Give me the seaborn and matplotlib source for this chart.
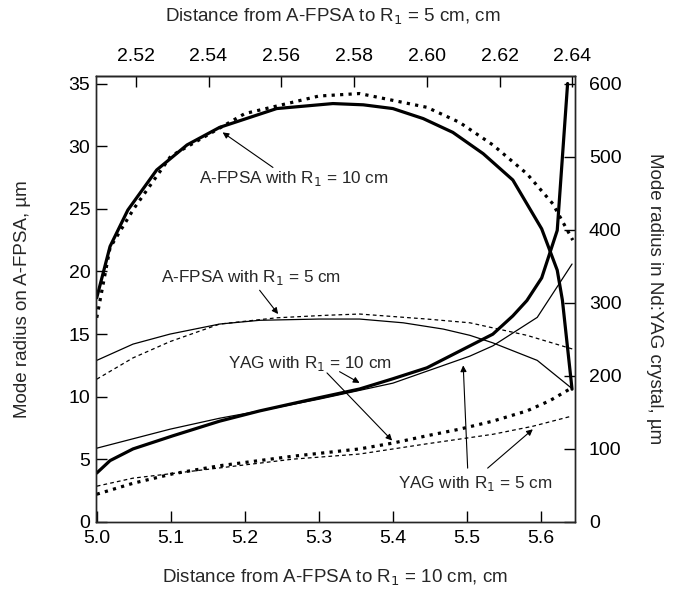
import numpy as np
import matplotlib
matplotlib.use("Agg")
from matplotlib import pyplot as plt
import seaborn as sns

# A-FPSA mode radius (left axis, um)
afpsa10_x = [5.0, 5.018, 5.042, 5.081, 5.122, 5.166, 5.243, 5.319, 5.36, 5.40, 5.441, 5.481, 5.522, 5.562, 5.601, 5.622, 5.629, 5.642]
afpsa10_y = [17.9, 22.0, 24.9, 28.1, 30.1, 31.5, 33.0, 33.4, 33.3, 33.0, 32.2, 31.1, 29.4, 27.3, 23.4, 20.1, 17.7, 10.6]
afpsa10_dot_x = [5.0, 5.018, 5.05, 5.1, 5.2, 5.3, 5.355, 5.446, 5.49, 5.535, 5.581, 5.616, 5.643]
afpsa10_dot_y = [16.3, 21.9, 25.0, 29.2, 32.6, 34.0, 34.2, 33.1, 31.9, 30.1, 27.8, 25.4, 22.5]
afpsa5_x = [5.0, 5.049, 5.099, 5.166, 5.22, 5.30, 5.355, 5.414, 5.468, 5.504, 5.535, 5.595, 5.641]
afpsa5_y = [12.9, 14.2, 15.0, 15.8, 16.1, 16.2, 16.2, 15.9, 15.4, 14.9, 14.3, 12.9, 10.7]
afpsa5_dot_x = [5.0, 5.049, 5.099, 5.166, 5.243, 5.31, 5.355, 5.446, 5.504, 5.581, 5.643]
afpsa5_dot_y = [11.4, 13.1, 14.4, 15.8, 16.3, 16.5, 16.6, 16.2, 15.9, 14.9, 13.8]

# Nd:YAG mode radius (right axis, um)
yag10_x = [5.0, 5.018, 5.049, 5.103, 5.166, 5.22, 5.30, 5.355, 5.40, 5.446, 5.504, 5.535, 5.562, 5.581, 5.601, 5.622, 5.636]
yag10_y = [67, 84, 100, 118, 138, 152, 170, 182, 196, 211, 241, 257, 282, 303, 334, 399, 600]
yag5_x = [5.0, 5.099, 5.166, 5.22, 5.30, 5.40, 5.504, 5.535, 5.595, 5.642]
yag5_y = [101, 127, 142, 152, 168, 190, 227, 241, 280, 353]
yag10_dot_x = [5.0, 5.049, 5.103, 5.166, 5.265, 5.355, 5.40, 5.446, 5.49, 5.535, 5.581, 5.612, 5.639]
yag10_dot_y = [38, 53, 66, 77, 90, 100, 108, 118, 127, 138, 152, 166, 182]
yag5_dot_x = [5.0, 5.049, 5.166, 5.265, 5.355, 5.446, 5.535, 5.589, 5.642]
yag5_dot_y = [49, 60, 74, 86, 93, 107, 120, 131, 145]

bottom_ticks = [5.0, 5.1, 5.2, 5.3, 5.4, 5.5, 5.6]
top_ticks = [2.52, 2.54, 2.56, 2.58, 2.60, 2.62, 2.64]
left_ticks = [0, 5, 10, 15, 20, 25, 30, 35]
right_ticks = [0, 100, 200, 300, 400, 500, 600]

sns.set_style("ticks")
plt.rcParams['font.family'] = ['Liberation Sans', 'DejaVu Sans']
plt.rcParams['axes.linewidth'] = 1.0

fig = plt.figure(figsize=(6.81, 5.93), dpi=100)
ax = fig.add_axes([96 / 681, 71 / 593, 479 / 681, 446 / 593])
ax2 = ax.twinx()

thick, thin = 2.3, 0.9
sns.lineplot(x=afpsa10_x, y=afpsa10_y, ax=ax, color='black', linewidth=thick, sort=False, estimator=None)
sns.lineplot(x=afpsa10_dot_x, y=afpsa10_dot_y, ax=ax, color='black', linewidth=thick, linestyle=':', sort=False, estimator=None)
sns.lineplot(x=afpsa5_x, y=afpsa5_y, ax=ax, color='black', linewidth=thin, sort=False, estimator=None)
sns.lineplot(x=afpsa5_dot_x, y=afpsa5_dot_y, ax=ax, color='black', linewidth=thin, linestyle=(0, (3, 2.5)), sort=False, estimator=None)

sns.lineplot(x=yag10_x, y=yag10_y, ax=ax2, color='black', linewidth=thick, sort=False, estimator=None)
sns.lineplot(x=yag10_dot_x, y=yag10_dot_y, ax=ax2, color='black', linewidth=thick, linestyle=':', sort=False, estimator=None)
sns.lineplot(x=yag5_x, y=yag5_y, ax=ax2, color='black', linewidth=thin, sort=False, estimator=None)
sns.lineplot(x=yag5_dot_x, y=yag5_dot_y, ax=ax2, color='black', linewidth=thin, linestyle=(0, (3, 2.5)), sort=False, estimator=None)

ax.set_xlim(4.999, 5.646)
ax.set_ylim(0, 35.6)
ax2.set_ylim(0, 35.6 * 600 / 35)
ax.set_xticks(bottom_ticks)
ax.set_xticklabels([f"{t:.1f}" for t in bottom_ticks])
ax.set_yticks(left_ticks)
ax2.set_yticks(right_ticks)
ax.set_xlabel("")
ax.set_ylabel("")
ax2.set_ylabel("")

# top axis: distance for R1 = 5 cm
to_top = lambda b: 2.50927 + 0.20352 * (b - 5.0)
to_bottom = lambda t: 5.0 + (t - 2.50927) / 0.20352
secax = ax.secondary_xaxis('top', functions=(to_top, to_bottom))
secax.set_xticks(top_ticks)
secax.set_xticklabels([f"{t:.2f}" for t in top_ticks])

for a in (ax, ax2, secax):
    a.tick_params(direction='in', length=8, width=1.0, labelsize=14, colors='black')
ax.tick_params(axis='x', pad=6)
ax.tick_params(axis='y', pad=4)
ax2.tick_params(axis='y', pad=10)
secax.tick_params(pad=8)
for s in ax.spines.values():
    s.set_linewidth(1.0)

lab = dict(fontsize=13.5, ha='center', va='center')
fig.text(333 / 681, 1 - 17 / 593, "Distance from A-FPSA to R$_1$ = 5 cm, cm", **lab)
fig.text(335 / 681, 1 - 578 / 593, "Distance from A-FPSA to R$_1$ = 10 cm, cm", **lab)
fig.text(23 / 681, 1 - 299 / 593, "Mode radius on A-FPSA, µm", rotation=90, **lab)
fig.text(655 / 681, 1 - 299 / 593, "Mode radius in Nd:YAG crystal, µm", rotation=270, **lab)

arrow = dict(arrowstyle='-|>', color='black', lw=0.8, mutation_scale=9, shrinkA=0, shrinkB=0)
note = dict(fontsize=12.3, ha='center', va='center')
ax.text(5.266, 27.4, "A-FPSA with R$_1$ = 10 cm", **note)
ax.annotate("", xy=(5.170, 31.1), xytext=(5.238, 28.3), arrowprops=arrow)
ax.text(5.208, 19.5, "A-FPSA with R$_1$ = 5 cm", **note)
ax.annotate("", xy=(5.245, 16.6), xytext=(5.220, 18.5), arrowprops=arrow)
ax.text(5.288, 12.64, "YAG with R$_1$ = 10 cm", **note)
ax.annotate("", xy=(5.355, 11.1), xytext=(5.328, 12.0), arrowprops=arrow)
ax.annotate("", xy=(5.399, 6.5), xytext=(5.311, 11.9), arrowprops=arrow)
ax.text(5.511, 3.1, "YAG with R$_1$ = 5 cm", **note)
ax.annotate("", xy=(5.495, 12.5), xytext=(5.501, 4.3), arrowprops=arrow)
ax.annotate("", xy=(5.589, 7.4), xytext=(5.528, 4.3), arrowprops=arrow)

fig.savefig("out.png", dpi=100)
